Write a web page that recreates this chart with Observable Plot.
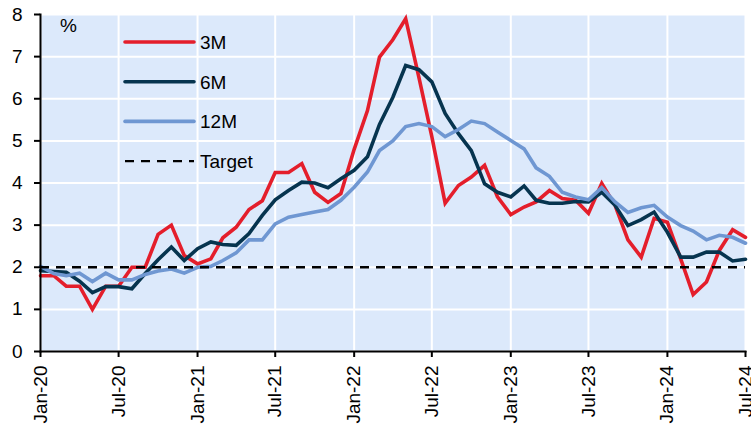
<!DOCTYPE html>
<html>
<head>
<meta charset="utf-8">
<script src="https://cdn.jsdelivr.net/npm/d3@7"></script>
<script src="https://cdn.jsdelivr.net/npm/@observablehq/plot@0.6"></script>
<style>
  html, body { margin: 0; padding: 0; background: #fff; }
  #wrap { position: relative; width: 751px; height: 430px; font-family: "Liberation Sans", Arial, sans-serif; }
  #legend { position: absolute; left: 0; top: 0; pointer-events: none; }
</style>
</head>
<body>
<div id="wrap"></div>
<script>
// Monthly, Jan-2020 .. Jul-2024
const startMonth = "2020-01";
const endMonth = "2024-07";

const series3M = [1.80,1.80,1.55,1.55,1.00,1.55,1.55,2.00,2.00,2.78,3.00,2.28,
                  2.08,2.20,2.70,2.95,3.37,3.58,4.25,4.25,4.46,3.78,3.54,3.75,
                  4.80,5.72,6.99,7.40,7.90,6.50,5.10,3.52,3.94,4.14,4.42,3.67,
                  3.25,3.43,3.55,3.82,3.63,3.59,3.28,3.99,3.47,2.65,2.24,3.16,
                  3.07,2.20,1.35,1.65,2.40,2.89,2.71];
const series6M = [1.92,1.90,1.88,1.67,1.40,1.54,1.54,1.49,1.85,2.18,2.48,2.16,
                  2.44,2.60,2.54,2.52,2.80,3.23,3.60,3.82,4.02,4.00,3.89,4.10,
                  4.30,4.62,5.39,6.03,6.79,6.69,6.40,5.65,5.17,4.77,3.98,3.78,
                  3.67,3.93,3.59,3.52,3.52,3.56,3.55,3.78,3.47,2.99,3.13,3.31,
                  2.83,2.24,2.24,2.36,2.36,2.15,2.19];
const series12M = [2.02,1.85,1.80,1.86,1.66,1.86,1.70,1.70,1.83,1.91,1.96,1.86,
                   2.00,2.02,2.16,2.34,2.65,2.65,3.03,3.19,3.25,3.31,3.37,3.59,
                   3.90,4.26,4.77,5.00,5.34,5.41,5.34,5.10,5.27,5.47,5.41,5.21,
                   5.01,4.81,4.36,4.16,3.78,3.67,3.60,3.89,3.55,3.30,3.41,3.47,
                   3.19,2.99,2.86,2.65,2.76,2.71,2.57];
const targetValue = 2;

const seriesNames = ["3M", "6M", "12M"];
const seriesColors = ["#e41e2b", "#06344f", "#6f97d2"];
const yTicks = [0,1,2,3,4,5,6,7,8];
const xTickMonths = ["2020-01","2020-07","2021-01","2021-07","2022-01","2022-07","2023-01","2023-07","2024-01","2024-07"];

const months = d3.utcMonth.range(new Date(startMonth + "-01"), d3.utcMonth.offset(new Date(endMonth + "-01"), 1));
const allSeries = [series3M, series6M, series12M];
const rows = [];
allSeries.forEach((vals, k) => vals.forEach((v, i) => rows.push({date: months[i], value: v, series: seriesNames[k]})));

const lineMarks = seriesNames.map((name, k) =>
  Plot.line(rows.filter(d => d.series === name), {x: "date", y: "value", stroke: seriesColors[k], strokeWidth: 3.6, strokeLinejoin: "miter", strokeMiterlimit: 3})
);

const chart = Plot.plot({
  width: 751,
  height: 430,
  marginLeft: 40,
  marginRight: 6,
  marginTop: 14,
  marginBottom: 79,
  style: {fontFamily: "'Liberation Sans', Arial, sans-serif", fontSize: "19px", color: "#000", background: "transparent"},
  x: {type: "utc", domain: [months[0], months[months.length - 1]]},
  y: {domain: [0, 8]},
  marks: [
    Plot.frame({fill: "#dce9fb", stroke: "none"}),
    Plot.gridY(yTicks, {stroke: "#fff", strokeOpacity: 1, strokeWidth: 2}),
    Plot.gridX(xTickMonths.map(m => new Date(m + "-01")), {stroke: "#fff", strokeOpacity: 1, strokeWidth: 2}),
    ...lineMarks,
    Plot.ruleY([targetValue], {stroke: "#000", strokeWidth: 2.4, strokeDasharray: "9,7"}),
    Plot.axisY(yTicks, {tickSize: 6, tickPadding: 12, label: null, stroke: "#000", strokeWidth: 2, fontSize: 19}),
    Plot.axisX(xTickMonths.map(m => new Date(m + "-01")), {tickSize: 6, tickPadding: 8, tickRotate: -90, tickFormat: d3.utcFormat("%b-%y"), label: null, stroke: "#000", strokeWidth: 2, fontSize: 19}),
    Plot.frame({anchor: "left", stroke: "#000", strokeWidth: 2}),
    Plot.frame({anchor: "bottom", stroke: "#000", strokeWidth: 2})
  ]
});
document.getElementById("wrap").appendChild(chart);

// Legend and unit label overlay
const legendItems = [
  {label: "3M", color: seriesColors[0], dash: null},
  {label: "6M", color: seriesColors[1], dash: null},
  {label: "12M", color: seriesColors[2], dash: null},
  {label: "Target", color: "#000", dash: "9,7"}
];
const ns = "http://www.w3.org/2000/svg";
const leg = document.createElementNS(ns, "svg");
leg.setAttribute("id", "legend");
leg.setAttribute("width", 751);
leg.setAttribute("height", 430);
leg.style.fontFamily = "'Liberation Sans', Arial, sans-serif";
const pct = document.createElementNS(ns, "text");
pct.setAttribute("x", 60); pct.setAttribute("y", 32);
pct.setAttribute("font-size", 19);
pct.textContent = "%";
leg.appendChild(pct);
legendItems.forEach((it, i) => {
  const y = 42 + i * 39.7;
  const l = document.createElementNS(ns, "line");
  l.setAttribute("x1", 125); l.setAttribute("x2", 194);
  l.setAttribute("y1", y); l.setAttribute("y2", y);
  l.setAttribute("stroke", it.color);
  l.setAttribute("stroke-width", it.dash ? 2.4 : 3.6);
  l.setAttribute("stroke-linecap", it.dash ? "butt" : "round");
  if (it.dash) l.setAttribute("stroke-dasharray", it.dash);
  leg.appendChild(l);
  const t = document.createElementNS(ns, "text");
  t.setAttribute("x", 200); t.setAttribute("y", y + 7);
  t.setAttribute("font-size", 19);
  t.textContent = it.label;
  leg.appendChild(t);
});
document.getElementById("wrap").appendChild(leg);
</script>
</body>
</html>
